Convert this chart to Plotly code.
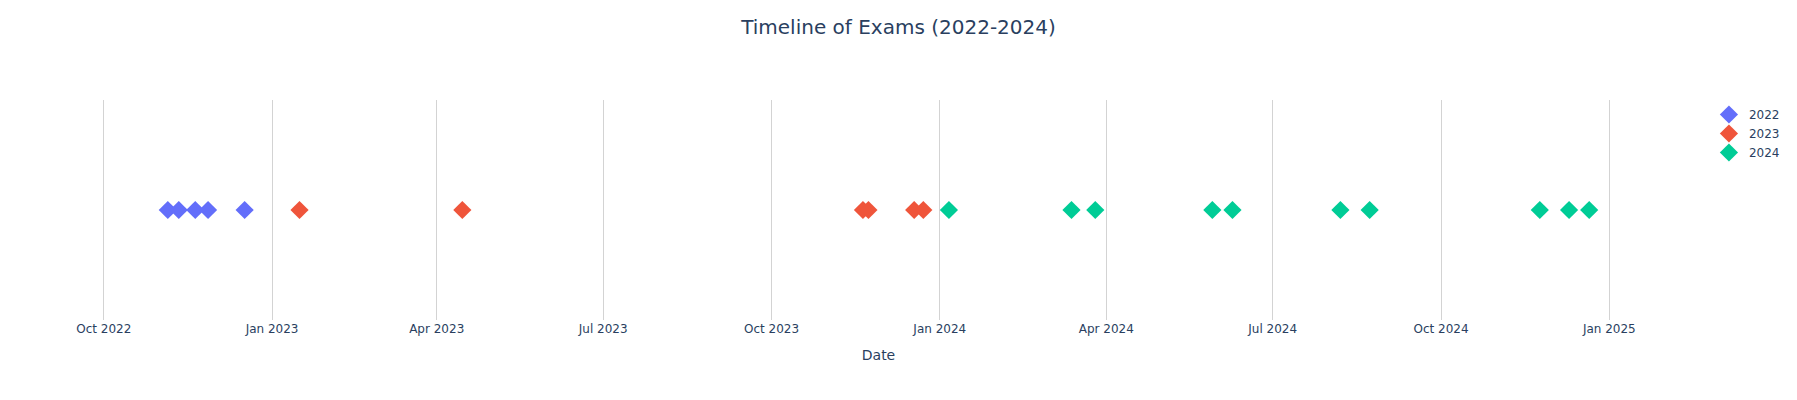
import plotly.graph_objects as go

dates_2022 = ["2022-11-05", "2022-11-11", "2022-11-20", "2022-11-27", "2022-12-17"]
dates_2023 = ["2023-01-16", "2023-04-15", "2023-11-20", "2023-11-23", "2023-12-18", "2023-12-23"]
dates_2024 = ["2024-01-06", "2024-03-13", "2024-03-26", "2024-05-29", "2024-06-09",
              "2024-08-07", "2024-08-23", "2024-11-24", "2024-12-10", "2024-12-21"]
series_names = ["2022", "2023", "2024"]
colors = ["#636efa", "#EF553B", "#00cc96"]

fig = go.Figure()
for name, dates, color in zip(series_names, [dates_2022, dates_2023, dates_2024], colors):
    fig.add_trace(go.Scatter(
        x=dates, y=[0] * len(dates), mode="markers", name=name,
        marker=dict(symbol="diamond", size=14, color=color),
    ))

fig.update_layout(
    template="plotly_white",
    width=1797, height=400,
    font=dict(family="DejaVu Sans, Verdana, sans-serif"),
    title=dict(text="Timeline of Exams (2022-2024)", x=0.5, xanchor="center",
               y=0.95, yanchor="top", font=dict(size=20)),
    margin=dict(l=80, r=80, t=100, b=80),
    xaxis=dict(title="Date", gridcolor="lightgray", range=["2022-09-18", "2025-02-07"],
               dtick="M3", tickformat="%b %Y"),
    yaxis=dict(visible=False),
)
fig.write_html("out.html", config={"displayModeBar": False},
               post_script="document.body.style.margin='0';")
